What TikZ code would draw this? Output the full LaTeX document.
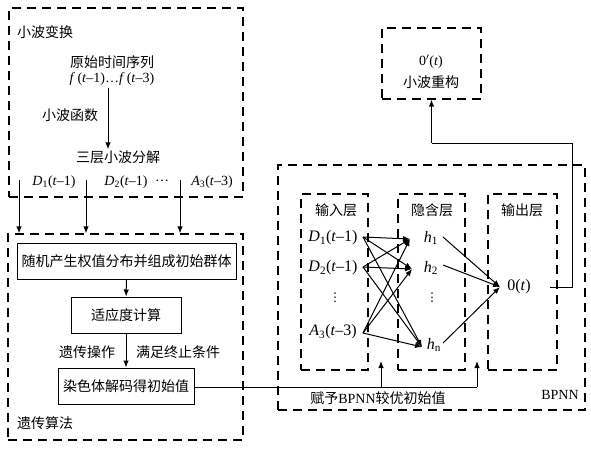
\documentclass[tikz,border=0pt]{standalone}
\usepackage{fontspec}
\setmainfont{Liberation Serif}
\newfontfamily\cjk{Noto Sans CJK SC}
\newfontfamily\dvs{DejaVu Sans}
\usetikzlibrary{arrows.meta}
\begin{document}
\begin{tikzpicture}[x=1pt,y=-1pt,font=\fontsize{14}{16}\selectfont,
  dbox/.style={draw,dash pattern=on 9pt off 6pt,line width=1.3pt,inner sep=0pt},
  sbox/.style={draw,line width=1pt,minimum height=36pt,inner sep=0pt},
  arr/.style={-{Latex[length=7pt,width=5.5pt]},line width=1pt},
  ln/.style={line width=1pt},
  lbl/.style={inner sep=1pt},
  nnl/.style={inner sep=1pt,font=\fontsize{16}{18}\selectfont},
  vd/.style={inner sep=1pt,font=\dvs\fontsize{12}{12}\selectfont}]
\useasboundingbox (0,0) rectangle (591,450);
\fill[white] (0,0) rectangle (591,450);

% wavelet transform box
\node[dbox,minimum width=234pt,minimum height=189pt] (wt) at (126,102.5) {};
\node[lbl,anchor=west] (wtl) at (16,32) {\cjk 小波变换};
\node[lbl] (orig) at (112,62) {\cjk 原始时间序列};
\node[lbl] (fseq) at (112,79) {\textit{f}\,(\textit{t}–1)…\textit{f}\,(\textit{t}–3)};
\node[lbl] (wf) at (70,115) {\cjk 小波函数};
\node[lbl] (dec) at (118,157) {\cjk 三层小波分解};
\node[lbl] (d1) at (54,182) {\textit{D}\textsubscript{1}(\textit{t}–1)};
\node[lbl] (d2) at (126,182) {\textit{D}\textsubscript{2}(\textit{t}–1)};
\node[lbl] (dd) at (162,181) {…};
\node[lbl] (a3) at (212,182) {\textit{A}\textsubscript{3}(\textit{t}–3)};
\coordinate (c1) at (108,88);
\draw[arr] (c1) -- (dec.north -| c1);

% GA box
\node[dbox,minimum width=235pt,minimum height=206pt] (ga) at (125.5,337) {};
\node[sbox,minimum width=219pt] (b1) at (126.5,261) {\cjk 随机产生权值分布并组成初始群体};
\node[sbox,minimum width=110pt] (b2) at (126,315) {\cjk 适应度计算};
\node[sbox,minimum width=136pt] (b3) at (126,386) {\cjk 染色体解码得初始值};
\node[lbl] (gop) at (87,352) {\cjk 遗传操作};
\node[lbl] (stop) at (178,352) {\cjk 满足终止条件};
\node[lbl,anchor=west] (gal) at (16,423) {\cjk 遗传算法};
\draw[arr] (b1) -- (b2);
\draw[arr] (b2) -- (b3);

% arrows wavelet -> GA
\coordinate (s1) at (19,180);
\coordinate (s2) at (86,180);
\coordinate (s3) at (180,180);
\draw[arr] (s1) -- (ga.north -| s1);
\draw[arr] (s2) -- (ga.north -| s2);
\draw[arr] (s3) -- (ga.north -| s3);

% BPNN box
\node[dbox,minimum width=307pt,minimum height=245pt] (bp) at (431.5,287.5) {};
\node[lbl] (bpl) at (560,395) {BPNN};
\node[dbox,minimum width=67pt,minimum height=176pt] (inb) at (334.5,282) {};
\node[dbox,minimum width=67pt,minimum height=176pt] (hib) at (431.5,282) {};
\node[dbox,minimum width=69pt,minimum height=176pt] (oub) at (522.5,282) {};
\node[lbl] (inl) at (336,210) {\cjk 输入层};
\node[lbl] (hil) at (432,210) {\cjk 隐含层};
\node[lbl] (oul) at (522,210) {\cjk 输出层};

\node[nnl] (i1) at (333,238) {\textit{D}\textsubscript{1}(\textit{t}–1)};
\node[nnl] (i2) at (333,268) {\textit{D}\textsubscript{2}(\textit{t}–1)};
\node[vd] (iv) at (335,298) {⋮};
\node[nnl] (i3) at (333,332) {\textit{A}\textsubscript{3}(\textit{t}–3)};
\node[nnl] (h1) at (431,238) {\textit{h}\textsubscript{1}};
\node[nnl] (h2) at (431,268) {\textit{h}\textsubscript{2}};
\node[vd] (hv) at (432,298) {⋮};
\node[nnl] (hn) at (434,345) {\textit{h}\textsubscript{n}};
\node[nnl] (o) at (519,287) {0(\textit{t})};

\coordinate (i1o) at (363,237);
\coordinate (i2o) at (363,267);
\coordinate (i3o) at (363,333);
\coordinate (h1i) at (410,239);
\coordinate (h2i) at (412,269);
\coordinate (hni) at (422,347);
\foreach \s in {i1o,i2o,i3o}
  \foreach \t in {h1i,h2i,hni}
    \draw[arr] (\s) -- (\t);
\coordinate (h1o) at (443,237);
\coordinate (h2o) at (443,265);
\coordinate (hno) at (443,343);
\coordinate (oi) at (500,287);
\draw[arr] (h1o) -- (oi);
\draw[arr] (h2o) -- (oi);
\draw[arr] (hno) -- (oi);

% reconstruction box
\node[dbox,minimum width=99pt,minimum height=71pt] (rc) at (431.5,63.5) {};
\node[lbl] (rct) at (431,62) {0$'$(\textit{t})};
\node[lbl] (rcl) at (431,82) {\cjk 小波重构};
\coordinate (oo) at (550,287);
\coordinate (k1) at (572,287);
\coordinate (k2) at (572,143);
\draw[ln] (oo) -- (k1) -- (k2) -- (k2 -| rc.south);
\draw[arr] (k2 -| rc.south) -- (rc.south);

% GA -> BPNN
\coordinate (j1) at (381,387);
\coordinate (j2) at (477,387);
\draw[ln] (b3.east |- j1) -- (j2);
\draw[arr] (j1) -- (381,361);
\draw[arr] (j2) -- (477,361);
\node[lbl] (give) at (378,398) {{\cjk 赋予}BPNN{\cjk 较优初始值}};
\end{tikzpicture}
\end{document}
